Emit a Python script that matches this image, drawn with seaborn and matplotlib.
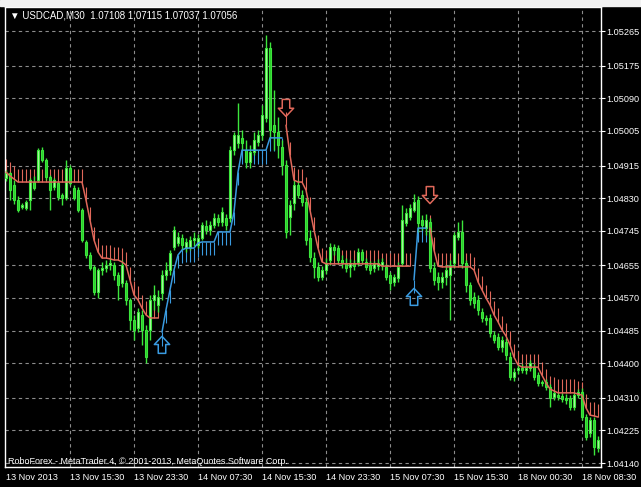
import numpy as np
import pandas as pd
import matplotlib
matplotlib.use("Agg")
import matplotlib.pyplot as plt
from matplotlib.patches import Rectangle
from matplotlib.path import Path
import seaborn as sns

# USDCAD M30, bars (left to right)
opens = [
    1.04882, 1.04896, 1.04864, 1.04825, 1.04807, 1.04804, 1.04825, 1.04872, 1.04877, 1.04955,
    1.04929, 1.04885, 1.04859, 1.04869, 1.04838, 1.04830, 1.04909, 1.04856, 1.04851, 1.04799,
    1.04716, 1.04682, 1.04651, 1.04586, 1.04643, 1.04648, 1.04656, 1.04656, 1.04630, 1.04609,
    1.04609, 1.04565, 1.04513, 1.04492, 1.04526, 1.04487, 1.04487, 1.04565, 1.04552, 1.04583,
    1.04630, 1.04643, 1.04703, 1.04713, 1.04726, 1.04700, 1.04703, 1.04721, 1.04708, 1.04726,
    1.04757, 1.04747, 1.04760, 1.04778, 1.04768, 1.04778, 1.04778, 1.04955, 1.04974, 1.04987,
    1.04955, 1.04924, 1.04950, 1.04976, 1.04994, 1.05039, 1.05221, 1.05020, 1.05002, 1.04963,
    1.04916, 1.04781, 1.04817, 1.04864, 1.04838, 1.04820, 1.04726, 1.04674, 1.04651, 1.04625,
    1.04643, 1.04669, 1.04703, 1.04700, 1.04669, 1.04661, 1.04651, 1.04661, 1.04664, 1.04690,
    1.04664, 1.04656, 1.04648, 1.04653, 1.04656, 1.04651, 1.04630, 1.04612, 1.04622, 1.04661,
    1.04765, 1.04781, 1.04799, 1.04825, 1.04773, 1.04752, 1.04768, 1.04648, 1.04625, 1.04612,
    1.04625, 1.04630, 1.04661, 1.04729, 1.04742, 1.04661, 1.04604, 1.04573, 1.04565, 1.04534,
    1.04518, 1.04518, 1.04474, 1.04468, 1.04442, 1.04455, 1.04416, 1.04364, 1.04383, 1.04388,
    1.04383, 1.04388, 1.04390, 1.04369, 1.04351, 1.04351, 1.04338, 1.04312, 1.04317, 1.04315,
    1.04310, 1.04310, 1.04286, 1.04317, 1.04325, 1.04260, 1.04218, 1.04252, 1.04179,
]
highs = [
    1.04903, 1.04898, 1.04877, 1.04836, 1.04817, 1.04825, 1.04882, 1.04888, 1.04961, 1.04963,
    1.04935, 1.04890, 1.04882, 1.04875, 1.04843, 1.04929, 1.04916, 1.04864, 1.04859, 1.04804,
    1.04721, 1.04690, 1.04656, 1.04648, 1.04664, 1.04669, 1.04674, 1.04664, 1.04638, 1.04669,
    1.04617, 1.04570, 1.04526, 1.04544, 1.04539, 1.04500, 1.04578, 1.04604, 1.04591, 1.04643,
    1.04664, 1.04695, 1.04757, 1.04742, 1.04737, 1.04726, 1.04731, 1.04742, 1.04737, 1.04768,
    1.04773, 1.04771, 1.04791, 1.04789, 1.04807, 1.04789, 1.04966, 1.05002, 1.05078, 1.05007,
    1.04981, 1.04968, 1.05002, 1.05007, 1.05073, 1.05255, 1.05237, 1.05112, 1.05041, 1.04981,
    1.04929, 1.04825, 1.04877, 1.04877, 1.04851, 1.04830, 1.04747, 1.04690, 1.04664, 1.04653,
    1.04674, 1.04713, 1.04711, 1.04708, 1.04682, 1.04674, 1.04672, 1.04669, 1.04700, 1.04698,
    1.04674, 1.04666, 1.04666, 1.04672, 1.04674, 1.04659, 1.04638, 1.04633, 1.04664, 1.04812,
    1.04804, 1.04815, 1.04841, 1.04836, 1.04786, 1.04789, 1.04778, 1.04664, 1.04638, 1.04638,
    1.04656, 1.04669, 1.04742, 1.04768, 1.04773, 1.04669, 1.04612, 1.04586, 1.04578, 1.04544,
    1.04526, 1.04528, 1.04484, 1.04479, 1.04471, 1.04466, 1.04429, 1.04388, 1.04396, 1.04398,
    1.04396, 1.04409, 1.04398, 1.04377, 1.04356, 1.04359, 1.04346, 1.04330, 1.04325, 1.04323,
    1.04320, 1.04317, 1.04325, 1.04333, 1.04336, 1.04268, 1.04260, 1.04260, 1.04211,
]
lows = [
    1.04875, 1.04825, 1.04815, 1.04794, 1.04802, 1.04799, 1.04799, 1.04851, 1.04872, 1.04924,
    1.04877, 1.04799, 1.04851, 1.04825, 1.04812, 1.04825, 1.04864, 1.04825, 1.04794, 1.04716,
    1.04674, 1.04643, 1.04578, 1.04570, 1.04630, 1.04638, 1.04643, 1.04617, 1.04565, 1.04599,
    1.04552, 1.04487, 1.04461, 1.04481, 1.04448, 1.04401, 1.04461, 1.04539, 1.04534, 1.04565,
    1.04617, 1.04630, 1.04695, 1.04705, 1.04695, 1.04690, 1.04695, 1.04705, 1.04700, 1.04721,
    1.04737, 1.04734, 1.04752, 1.04757, 1.04757, 1.04747, 1.04768, 1.04942, 1.04961, 1.04955,
    1.04909, 1.04909, 1.04942, 1.04966, 1.04981, 1.05028, 1.04987, 1.04955, 1.04935, 1.04890,
    1.04726, 1.04734, 1.04799, 1.04830, 1.04810, 1.04708, 1.04664, 1.04622, 1.04614, 1.04617,
    1.04633, 1.04656, 1.04682, 1.04659, 1.04648, 1.04638, 1.04625, 1.04643, 1.04653, 1.04659,
    1.04643, 1.04633, 1.04638, 1.04643, 1.04643, 1.04617, 1.04591, 1.04601, 1.04612, 1.04653,
    1.04757, 1.04773, 1.04794, 1.04742, 1.04747, 1.04734, 1.04638, 1.04604, 1.04591, 1.04596,
    1.04604, 1.04513, 1.04648, 1.04721, 1.04648, 1.04586, 1.04552, 1.04544, 1.04526, 1.04508,
    1.04500, 1.04468, 1.04453, 1.04435, 1.04429, 1.04409, 1.04356, 1.04354, 1.04372, 1.04375,
    1.04372, 1.04380, 1.04356, 1.04341, 1.04341, 1.04330, 1.04286, 1.04304, 1.04304, 1.04299,
    1.04294, 1.04278, 1.04278, 1.04310, 1.04252, 1.04200, 1.04208, 1.04161, 1.04169,
]
closes = [
    1.04896, 1.04851, 1.04825, 1.04799, 1.04812, 1.04820, 1.04877, 1.04856, 1.04955, 1.04929,
    1.04885, 1.04851, 1.04877, 1.04833, 1.04830, 1.04909, 1.04869, 1.04830, 1.04799, 1.04721,
    1.04682, 1.04648, 1.04586, 1.04643, 1.04648, 1.04656, 1.04661, 1.04630, 1.04604, 1.04656,
    1.04565, 1.04513, 1.04487, 1.04534, 1.04487, 1.04416, 1.04565, 1.04578, 1.04573, 1.04630,
    1.04643, 1.04687, 1.04747, 1.04729, 1.04708, 1.04716, 1.04721, 1.04726, 1.04726, 1.04760,
    1.04747, 1.04760, 1.04778, 1.04768, 1.04794, 1.04760, 1.04955, 1.04994, 1.04994, 1.04974,
    1.04924, 1.04950, 1.04981, 1.04994, 1.05047, 1.05221, 1.05007, 1.05002, 1.04968, 1.04916,
    1.04742, 1.04812, 1.04864, 1.04838, 1.04820, 1.04721, 1.04677, 1.04651, 1.04625, 1.04643,
    1.04661, 1.04703, 1.04695, 1.04669, 1.04661, 1.04648, 1.04661, 1.04653, 1.04690, 1.04669,
    1.04651, 1.04643, 1.04659, 1.04661, 1.04664, 1.04625, 1.04609, 1.04625, 1.04651, 1.04773,
    1.04791, 1.04804, 1.04820, 1.04765, 1.04760, 1.04773, 1.04648, 1.04617, 1.04612, 1.04625,
    1.04643, 1.04656, 1.04734, 1.04742, 1.04661, 1.04604, 1.04565, 1.04557, 1.04539, 1.04518,
    1.04513, 1.04479, 1.04461, 1.04442, 1.04461, 1.04422, 1.04364, 1.04377, 1.04388, 1.04383,
    1.04388, 1.04401, 1.04364, 1.04349, 1.04349, 1.04338, 1.04310, 1.04323, 1.04312, 1.04307,
    1.04304, 1.04286, 1.04317, 1.04325, 1.04260, 1.04208, 1.04252, 1.04182, 1.04200,
]

# trend-stop indicator level for each bar
trend = [
    1.04898, 1.04888, 1.04880, 1.04872, 1.04872, 1.04872, 1.04872, 1.04872, 1.04872, 1.04872,
    1.04872, 1.04872, 1.04872, 1.04872, 1.04872, 1.04872, 1.04872, 1.04872, 1.04872, 1.04872,
    1.04825, 1.04773, 1.04721, 1.04690, 1.04674, 1.04674, 1.04672, 1.04669, 1.04669, 1.04664,
    1.04656, 1.04617, 1.04578, 1.04565, 1.04544, 1.04526, 1.04518, 1.04518, 1.04518, 1.04481,
    1.04539, 1.04591, 1.04643, 1.04682, 1.04695, 1.04700, 1.04700, 1.04700, 1.04713, 1.04716,
    1.04716, 1.04716, 1.04716, 1.04742, 1.04742, 1.04742, 1.04742, 1.04794, 1.04898, 1.04955,
    1.04955, 1.04955, 1.04955, 1.04955, 1.04955, 1.04955, 1.04987, 1.04987, 1.04987, 1.04987,
    1.05020, 1.04942, 1.04877, 1.04872, 1.04872, 1.04851, 1.04799, 1.04747, 1.04700, 1.04664,
    1.04659, 1.04659, 1.04659, 1.04659, 1.04659, 1.04659, 1.04659, 1.04659, 1.04659, 1.04659,
    1.04659, 1.04659, 1.04659, 1.04659, 1.04653, 1.04653, 1.04653, 1.04653, 1.04653, 1.04653,
    1.04653, 1.04653, 1.04617, 1.04752, 1.04752, 1.04752, 1.04752, 1.04695, 1.04653, 1.04651,
    1.04651, 1.04651, 1.04651, 1.04651, 1.04651, 1.04651, 1.04651, 1.04643, 1.04612, 1.04591,
    1.04570, 1.04552, 1.04526, 1.04508, 1.04487, 1.04471, 1.04448, 1.04416, 1.04396, 1.04390,
    1.04390, 1.04390, 1.04390, 1.04390, 1.04369, 1.04349, 1.04333, 1.04328, 1.04323, 1.04323,
    1.04323, 1.04323, 1.04323, 1.04320, 1.04317, 1.04284, 1.04265, 1.04263, 1.04260,
]
flip_bars = [0, 39, 70, 102, 106]
flip_dirs = ["down", "up", "down", "up", "down"]
hatch_len = 0.00035

arrow_bars = [39, 70, 102, 106]
arrow_prices = [1.04448, 1.05065, 1.04573, 1.04838]
arrow_dirs = ["up", "down", "up", "down"]

y_ticks = [1.05265, 1.05175, 1.05090, 1.05005, 1.04915, 1.04830, 1.04745,
           1.04655, 1.04570, 1.04485, 1.04400, 1.04310, 1.04225, 1.04140]
x_tick_bars = [0, 16, 32, 48, 64, 80, 96, 112, 128, 144]
x_tick_labels = ["13 Nov 2013", "13 Nov 15:30", "13 Nov 23:30", "14 Nov 07:30",
                 "14 Nov 15:30", "14 Nov 23:30", "15 Nov 07:30", "15 Nov 15:30",
                 "18 Nov 00:30", "18 Nov 08:30"]

RED = "#e0685a"
BLUE = "#3a9be0"
GREEN = "#3ce63c"

sns.set_style("dark", {"axes.facecolor": "black", "figure.facecolor": "black"})
plt.rcParams["font.family"] = ["Liberation Sans", "DejaVu Sans"]

bars = pd.DataFrame({"open": opens, "high": highs, "low": lows, "close": closes})
bars["bar"] = np.arange(len(bars))
idx = np.searchsorted(flip_bars, bars["bar"], side="right") - 1
bars["dir"] = np.array(flip_dirs)[idx]
bars["seg"] = idx
bars["trend"] = trend

fig = plt.figure(figsize=(6.41, 4.87), dpi=100, facecolor="black")
ax = fig.add_axes([5 / 641, 20 / 487, 596 / 641, 460 / 487])
ax.set_facecolor("black")
fig.patches.append(Rectangle((0, 1 - 6 / 487), 1, 6 / 487, transform=fig.transFigure,
                             color="#f2f2f2", zorder=0))

# candles
ax.vlines(bars["bar"], bars["low"], bars["high"], color=GREEN, lw=1, zorder=3)
up = bars[bars["close"] >= bars["open"]]
dn = bars[bars["close"] < bars["open"]]
ax.bar(up["bar"], (up["close"] - up["open"]).clip(lower=0.00001), bottom=up["open"],
       width=0.65, color="#b4f5a8", edgecolor=GREEN, lw=0.8, zorder=4)
ax.bar(dn["bar"], dn["open"] - dn["close"], bottom=dn["close"],
       width=0.65, color="#2ccc2c", edgecolor=GREEN, lw=0.8, zorder=4)

# indicator hatches and lines
sign = np.where(bars["dir"] == "down", 1, -1)
ax.vlines(bars["bar"], bars["trend"], bars["trend"] + sign * hatch_len,
          colors=np.where(bars["dir"] == "down", RED, BLUE), lw=0.8, zorder=2)
sns.lineplot(data=bars, x="bar", y="trend", hue="dir", units="seg", estimator=None,
             palette={"down": RED, "up": BLUE}, legend=False, lw=1.1, ax=ax, zorder=5)

# hollow signal arrows
up_arrow = Path([(-0.22, -0.5), (0.22, -0.5), (0.22, 0.02), (0.45, 0.02), (0, 0.5),
                 (-0.45, 0.02), (-0.22, 0.02), (-0.22, -0.5)], closed=True)
down_arrow = Path([(x, -y) for x, y in up_arrow.vertices], closed=True)
for b, p, d in zip(arrow_bars, arrow_prices, arrow_dirs):
    ax.scatter([b], [p], marker=up_arrow if d == "up" else down_arrow, s=150,
               facecolors="none", edgecolors=BLUE if d == "up" else RED,
               linewidths=1.1, zorder=6)

ax.set_xlim(-0.25, 148.75)
ax.set_ylim(1.041299, 1.053278)
ax.set_xlabel("")
ax.set_ylabel("")
ax.yaxis.tick_right()
ax.set_yticks(y_ticks)
ax.set_yticklabels([f"{v:.5f}" for v in y_ticks])
ax.set_xticks(x_tick_bars)
ax.set_xticklabels(x_tick_labels, ha="left")
ax.tick_params(colors="white", labelcolor="white", labelsize=6.6, length=3, width=0.8,
               direction="out", pad=1)
ax.tick_params(axis="x", pad=1)
for lbl in ax.get_xticklabels()[:1]:
    lbl.set_x(-0.8)
ax.grid(True, color="#8c8c8c", ls=(0, (3, 3)), lw=0.8)
ax.get_xgridlines()[0].set_visible(False)
for s in ax.spines.values():
    s.set_visible(True)
    s.set_color("white")
    s.set_linewidth(1)

fig.text(10 / 641, 1 - 16 / 487, "\u25bc USDCAD,M30  1.07108 1.07115 1.07037 1.07056",
         color="white", fontsize=7, va="center")
fig.text(8 / 641, 1 - 461 / 487,
         "RoboForex - MetaTrader 4, \u00a9 2001-2013, MetaQuotes Software Corp.",
         color="white", fontsize=6.5, va="center")

fig.savefig("out.png", dpi=100, facecolor="black")
